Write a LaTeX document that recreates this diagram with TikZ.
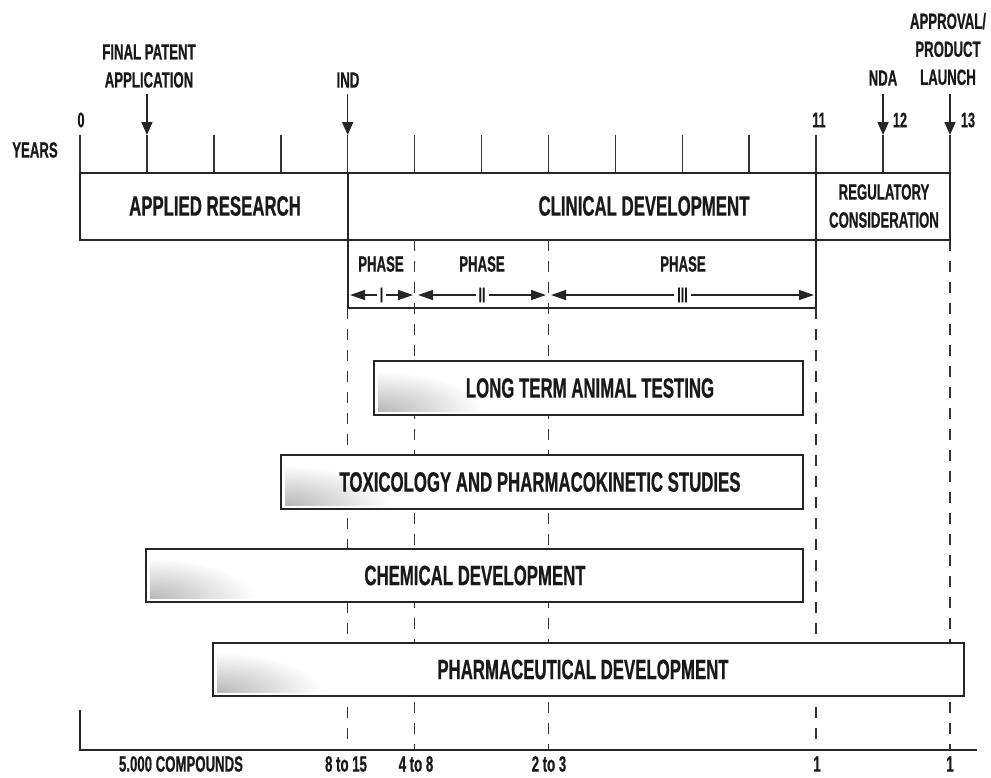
\documentclass[tikz,border=0pt]{standalone}
\usepackage{fontspec}
\setmainfont{Liberation Sans}
\newfontfamily\cond{Liberation Sans}[FakeStretch=0.6, FakeBold=0.6]
\usetikzlibrary{arrows.meta}

\newcommand\gbar[7]{%
  \fill[white] (#2,#3) rectangle (#4,#5);
  \begin{scope}
    \clip (#2+4,#3+4) rectangle (#4-4,#5-4);
    \shade[inner color=black!28, outer color=white] (#2+4,#5-4) ellipse [x radius=105, y radius=40];
  \end{scope}
  \draw[bar] (#2,#3) rectangle (#4,#5);
  \node[big] (#1) at (#7,{(#3+#5)/2}) {#6};
}

\begin{document}
\begin{tikzpicture}[x=1pt,y=-1pt,
  ln/.style={line width=1.8pt, black!85},
  tk/.style={line width=1.6pt, black!80},
  dsh/.style={line width=1.6pt, black!80, dash pattern=on 11pt off 10pt},
  lbl/.style={font=\cond\bfseries\fontsize{22}{28}\selectfont, inner sep=0pt, text=black!90, align=center},
  big/.style={font=\cond\bfseries\fontsize{28}{30}\selectfont, inner sep=0pt, text=black!90},
  num/.style={font=\cond\bfseries\fontsize{21}{22}\selectfont, inner sep=0pt, text=black!90},
  arr/.style={line width=1.6pt, black!85, -{Triangle[length=13pt,width=11pt]}},
  parr/.style={line width=1.3pt, black!85, {Triangle[length=15pt,width=10pt]}-{Triangle[length=15pt,width=10pt]}},
  bar/.style={draw=black!85, line width=2pt},
]
\useasboundingbox (0,0) rectangle (991,777);

% tick coordinates
\foreach \i in {0,...,13}{
  \coordinate (t\i) at ({80+66.923*\i},135);
  \coordinate (b\i) at ({80+66.923*\i},173);
  \coordinate (c\i) at ({80+66.923*\i},240);
  \coordinate (p\i) at ({80+66.923*\i},308);
  \coordinate (e\i) at ({80+66.923*\i},750);
}
\foreach \i in {0,...,13} \draw[tk] (t\i) -- (b\i);

% top frame
\draw[ln] (b0) -- (b13);
\draw[ln] (b0) -- (c0) -- (c13) -- (b13);
\draw[ln] (b4) -- (c4);
\draw[ln] (b11) -- (c11);
% phase box
\draw[ln] (c4) -- (p4) -- (p11) -- (c11);

% dashed guides
\draw[dsh] (c5) -- (e5);
\draw[dsh] (c7) -- (e7);
\draw[dsh] (p4) -- (e4);
\draw[dsh] (p11) -- (e11);
\draw[dsh] (c13) -- (e13);

% bottom axis
\coordinate (bl) at (80,710);
\coordinate (bo) at (80,750);
\coordinate (br) at (977,750);
\draw[ln] (bl) -- (bo) -- (br);

% top labels
\node[lbl] (years) at (35,150) {YEARS};
\node[num] (n0) at (81,120) {0};
\node[num] (n11) at (819,120) {11};
\node[num] (n12) at (900,120) {12};
\node[num] (n13) at (968,120) {13};
\node[lbl] (fpa) at (149,66) {FINAL PATENT\\APPLICATION};
\node[lbl] (ind) at (348,80) {IND};
\node[lbl] (nda) at (883,78) {NDA};
\node[lbl] (appr) at (948,49) {APPROVAL/\\PRODUCT\\LAUNCH};

% arrows
\coordinate (a1) at (t1 |- 0,94);
\coordinate (a4) at (t4 |- 0,94);
\coordinate (a12) at (t12 |- 0,94);
\coordinate (a13) at (t13 |- 0,94);
\draw[arr] (a1) -- (t1);
\draw[arr] (a4) -- (t4);
\draw[arr] (a12) -- (t12);
\draw[arr] (a13) -- (t13);

% phase row
\node[big] (ar) at (215,206) {APPLIED RESEARCH};
\node[big] (cd) at (644,206) {CLINICAL DEVELOPMENT};
\node[lbl] (reg) at (884,206) {REGULATORY\\CONSIDERATION};

\node[lbl] (ph1) at (381,264) {PHASE};
\node[lbl] (ph2) at (482,264) {PHASE};
\node[lbl] (ph3) at (683,264) {PHASE};
\coordinate (p1a) at (350,295); \coordinate (p1b) at (413,295);
\coordinate (p2a) at (418,295); \coordinate (p2b) at (546,295);
\coordinate (p3a) at (551,295); \coordinate (p3b) at (814,295);
\draw[parr] (p1a) -- node[num, fill=white, inner xsep=3pt, inner ysep=1pt] (r1) {I} (p1b);
\draw[parr] (p2a) -- node[num, fill=white, inner xsep=3pt, inner ysep=1pt] (r2) {II} (p2b);
\draw[parr] (p3a) -- node[num, fill=white, inner xsep=3pt, inner ysep=1pt] (r3) {III} (p3b);

% bars
\gbar{lt}{374}{361}{803}{415}{LONG TERM ANIMAL TESTING}{590}
\gbar{tox}{281}{455}{803}{509}{TOXICOLOGY AND PHARMACOKINETIC STUDIES}{540}
\gbar{chem}{146}{549}{803}{602}{CHEMICAL DEVELOPMENT}{475}
\gbar{pharm}{213}{643}{964}{696}{PHARMACEUTICAL DEVELOPMENT}{583}

% bottom labels
\node[lbl] (q0) at (181,764) {5.000 COMPOUNDS};
\node[lbl] (q1) at (346,764) {8 to 15};
\node[lbl] (q2) at (416,764) {4 to 8};
\node[lbl] (q3) at (549,764) {2 to 3};
\node[lbl] (q4) at (817,764) {1};
\node[lbl] (q5) at (950,764) {1};
\end{tikzpicture}
\end{document}
